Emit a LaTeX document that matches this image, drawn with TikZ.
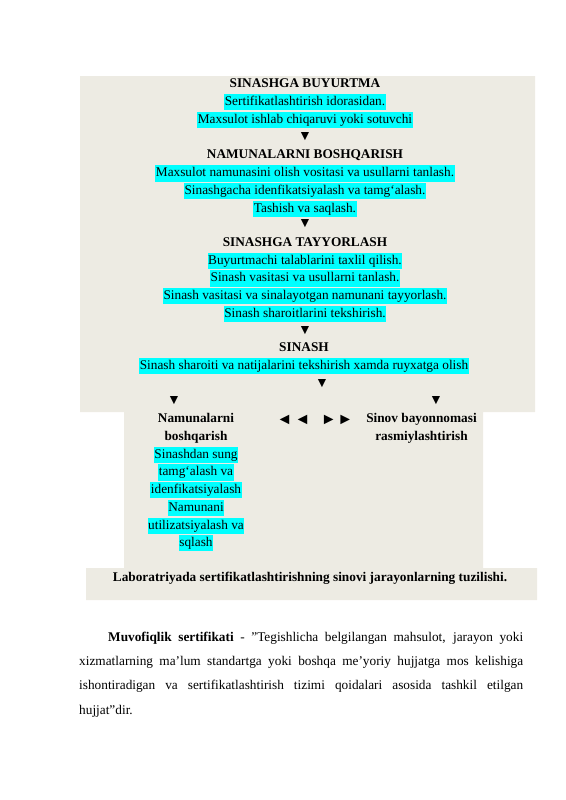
\documentclass[tikz,border=0pt]{standalone}
\usepackage{fontspec}
\setmainfont{Liberation Serif}
\definecolor{panel}{RGB}{237,235,227}
\definecolor{hlcyan}{RGB}{0,255,255}
\begin{document}
\begin{tikzpicture}[x=1pt, y=-1pt,
    every node/.style={font=\fontsize{13.3}{15}\selectfont, inner sep=0pt},
    line/.style={text height=10.2pt, text depth=3.3pt, inner xsep=0.6pt, inner ysep=1.5pt},
    lit/.style={line, fill=hlcyan},
    head/.style={line, font=\fontsize{13.3}{15}\selectfont\bfseries},
    tri/.style={font=\fontsize{14}{15}\selectfont}]

    \useasboundingbox (0,0) rectangle (565,800);

    % Draw the panel.
    \fill[panel] (80,76) -- (535,76) -- (535,412) -- (483,412) -- (483,568)
      -- (537,568) -- (537,600) -- (86,600) -- (86,568) -- (124,568)
      -- (124,412) -- (80,412) -- cycle;

    % Draw the order block.
    \node[head] (buy) at (305,84) {SINASHGA BUYURTMA};
    \node[lit] (buy_1) at (305,102) {Sertifikatlashtirish idorasidan.};
    \node[lit] (buy_2) at (305,120) {Maxsulot ishlab chiqaruvi yoki sotuvchi};
    \node[tri] (arr_1) at (305,137) {▼};

    % Draw the sample block.
    \node[head] (nam) at (305,155) {NAMUNALARNI BOSHQARISH};
    \node[lit] (nam_1) at (305,173.5) {Maxsulot namunasini olish vositasi va usullarni tanlash.};
    \node[lit] (nam_2) at (305,191) {Sinashgacha idenfikatsiyalash va tamg‘alash.};
    \node[lit] (nam_3) at (305,209) {Tashish va saqlash.};
    \node[tri] (arr_2) at (305,224) {▼};

    % Draw the preparation block.
    \node[head] (tay) at (305,243) {SINASHGA TAYYORLASH};
    \node[lit] (tay_1) at (305,261) {Buyurtmachi talablarini taxlil qilish.};
    \node[lit] (tay_2) at (305,278.5) {Sinash vasitasi va usullarni tanlash.};
    \node[lit] (tay_3) at (305,296) {Sinash vasitasi va sinalayotgan namunani tayyorlash.};
    \node[lit] (tay_4) at (305,314) {Sinash sharoitlarini tekshirish.};
    \node[tri] (arr_3) at (305,331) {▼};

    % Draw the test block.
    \node[head] (sin) at (304,348) {SINASH};
    \node[lit] (sin_1) at (304,366) {Sinash sharoiti va natijalarini tekshirish xamda ruyxatga olish};
    \node[tri] (arr_4) at (322,384) {▼};
    \node[tri] (arr_5) at (174,401) {▼};
    \node[tri] (arr_6) at (436,401) {▼};

    % Draw the two outcomes.
    \node[head] (out_l) at (196,419) {Namunalarni};
    \node[head] (out_l2) at (196,437) {boshqarish};
    \node[lit] (out_l3) at (196,455) {Sinashdan sung};
    \node[lit] (out_l4) at (196,472.5) {tamg‘alash va};
    \node[lit] (out_l5) at (196,490) {idenfikatsiyalash};
    \node[lit] (out_l6) at (196,508) {Namunani};
    \node[lit] (out_l7) at (196,526) {utilizatsiyalash va};
    \node[lit] (out_l8) at (196,543) {sqlash};
    \node[tri, font=\fontsize{16}{17}\selectfont] (arr_l) at (293.5,420) {◄\hspace{2pt}◄};
    \node[tri, font=\fontsize{16}{17}\selectfont] (arr_r) at (337,420) {►\hspace{0.5pt}►};
    \node[head] (out_r) at (421.5,419) {Sinov bayonnomasi};
    \node[head] (out_r2) at (421.5,437) {rasmiylashtirish};

    % Draw the caption.
    \node[head] (cap) at (310,578) {Laboratriyada sertifikatlashtirishning sinovi jarayonlarning tuzilishi.};

    % Draw the paragraph.
    \node[anchor=base west, text width=444pt, align=justify, font=\fontsize{13.3}{24.4}\selectfont]
      (par) at (79,641) {\hyphenpenalty=10000\hspace*{29pt}\textbf{Muvofiqlik sertifikati} - \char34 Tegishlicha belgilangan mahsulot, jarayon yoki\linebreak
      xizmatlarning ma’lum standartga yoki boshqa me’yoriy hujjatga mos kelishiga\linebreak
      ishontiradigan va sertifikatlashtirish tizimi qoidalari asosida tashkil etilgan\linebreak
      hujjat\char34 dir.};
  \end{tikzpicture}
\end{document}
